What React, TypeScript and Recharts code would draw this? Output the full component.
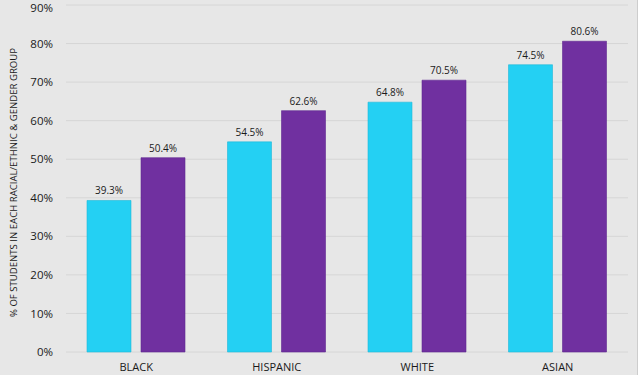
import { BarChart, Bar, XAxis, YAxis, CartesianGrid, LabelList } from 'recharts'

const groups = ['BLACK', 'HISPANIC', 'WHITE', 'ASIAN']
const cyanValues = [39.3, 54.5, 64.8, 74.5]
const purpleValues = [50.4, 62.6, 70.5, 80.6]
const yTicks = [0, 10, 20, 30, 40, 50, 60, 70, 80, 90]
const yTitle = '% OF STUDENTS IN EACH RACIAL/ETHNIC & GENDER GROUP'

const FONT = '"Open Sans", sans-serif'

function YTitle({ viewBox }: any) {
  const x = viewBox.x + 13
  const y = viewBox.y + viewBox.height / 2 + 4
  return (
    <text
      x={x}
      y={y}
      transform={`rotate(-90, ${x}, ${y})`}
      textAnchor="middle"
      dominantBaseline="central"
      fontSize={9.6}
      fill="#1a1a1a"
      fontFamily={FONT}
    >
      {yTitle}
    </text>
  )
}

export default function App() {
  const data = groups.map((g, i) => ({
    group: g,
    cyan: cyanValues[i],
    purple: purpleValues[i],
  }))

  const pct = (v: any) => `${Number(v).toFixed(1)}%`

  return (
    <div
      style={{
        position: 'absolute',
        left: 0,
        top: 0,
        width: 637,
        height: 375,
        background: '#e7e7e7',
        borderRight: '1px solid #cdcdcd',
        fontFamily: FONT,
      }}
    >
      <BarChart
        width={640}
        height={375}
        data={data}
        margin={{ top: 5, right: 12, bottom: 0, left: 0 }}
        barSize={44}
        barGap={10}
      >
        <CartesianGrid vertical={false} stroke="#d6d6d6" />
        <XAxis
          dataKey="group"
          axisLine={false}
          tickLine={false}
          height={23}
          tickMargin={5}
          tick={{ fill: '#1a1a1a', fontSize: 11, fontFamily: FONT }}
        />
        <YAxis
          domain={[0, 90]}
          ticks={yTicks}
          width={66}
          axisLine={false}
          tickLine={false}
          tickMargin={7}
          tickFormatter={(v) => `${v}%`}
          tick={{ fill: '#1a1a1a', fontSize: 11.5, fontFamily: FONT }}
          label={<YTitle />}
        />
        <Bar dataKey="cyan" fill="#24d0f3" stroke="#1fb8d8" strokeWidth={0.6} isAnimationActive={false}>
          <LabelList dataKey="cyan" position="top" offset={6} formatter={pct} style={{ fontSize: 10, fill: '#1a1a1a', fontFamily: FONT }} />
        </Bar>
        <Bar dataKey="purple" fill="#7030a0" stroke="#5f2890" strokeWidth={0.6} isAnimationActive={false}>
          <LabelList dataKey="purple" position="top" offset={6} formatter={pct} style={{ fontSize: 10, fill: '#1a1a1a', fontFamily: FONT }} />
        </Bar>
      </BarChart>
    </div>
  )
}
